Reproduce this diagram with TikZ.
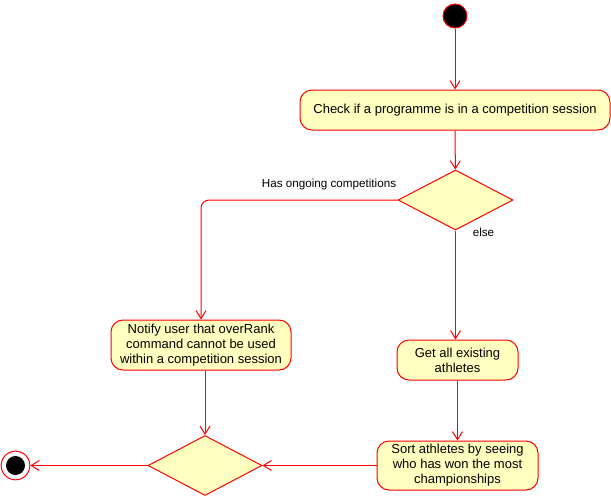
\documentclass[tikz,border=0pt]{standalone}
\usepackage{fontspec}
\setmainfont{Liberation Sans}
\usetikzlibrary{shapes.geometric,arrows.meta}
\definecolor{actred}{HTML}{FF0000}
\definecolor{actfill}{HTML}{FFFFC0}
\tikzset{
  action/.style={draw=actred, fill=actfill, rounded corners=9, align=center,
    inner sep=0pt, font=\fontsize{9.75}{11.25}\selectfont},
  decision/.style={draw=actred, fill=actfill, diamond, aspect=1.9, inner sep=0pt},
  flow/.style={draw=actred, -{Straight Barb[length=6pt,width=7.5pt]}},
  guard/.style={font=\fontsize{8.75}{10}\selectfont}
}
\begin{document}
\begin{tikzpicture}[x=0.75pt,y=-0.75pt,line width=0.75pt]
  \useasboundingbox (0,0) rectangle (611,497);
  % start and end
  \node[circle, draw=actred, fill=black, minimum size=18pt, inner sep=0pt] (start) at (455,16) {};
  \node[circle, draw=actred, fill=white, minimum size=21.5pt, inner sep=0pt] (stop) at (15.5,465.5) {};
  \fill (stop) circle[radius=7.1pt];
  % actions
  \node[action, minimum width=232.5pt, minimum height=30pt] (check) at (455,110)
    {Check if a programme is in a competition session};
  \node[action, minimum width=135pt, minimum height=37.5pt] (notify) at (201,345)
    {Notify user that overRank\\command cannot be used\\within a competition session};
  \node[action, minimum width=90.75pt, minimum height=30pt] (getall) at (457.5,360)
    {Get all existing\\athletes};
  \node[action, minimum width=120.75pt, minimum height=36.75pt] (sort) at (457.5,465.5)
    {Sort athletes by seeing\\who has won the most\\championships};
  % decisions
  \node[decision, minimum width=86.25pt, minimum height=45pt] (dec) at (455.5,200) {};
  \node[decision, minimum width=85.5pt, minimum height=45pt] (merge) at (205,465.5) {};
  % flows
  \draw[flow] (start) -- (check);
  \draw[flow] (check) -- (dec);
  \draw[flow, rounded corners=6] (dec.west) -- (dec.west -| notify.north)
    -- (notify.north);
  \draw[flow] (dec.south) -- (dec.south |- getall.north);
  \draw[flow] (getall) -- (getall.south |- sort.north);
  \draw[flow] (notify.south -| merge.north) -- (merge.north);
  \draw[flow] (sort.west) -- (merge.east);
  \draw[flow] (merge.west) -- (stop.east);
  % guards
  \node[guard] (yes) at (329,184) {Has ongoing competitions};
  \node[guard] (no) at (483.5,232) {else};
\end{tikzpicture}
\end{document}
